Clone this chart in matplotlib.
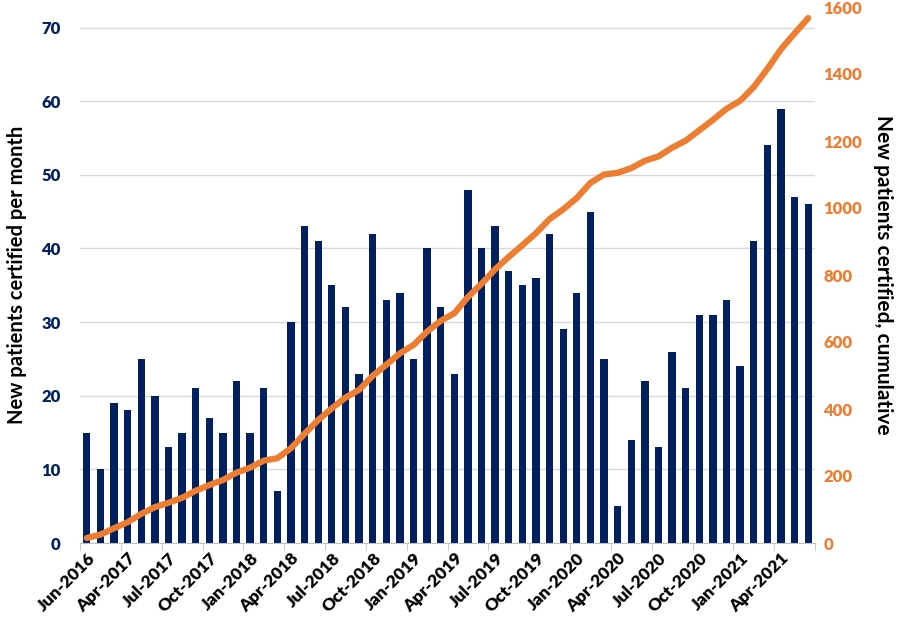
import matplotlib
matplotlib.use("Agg")
import matplotlib.pyplot as plt
import numpy as np

months = ["Jun-2016"] + [f"{m}-{y}" for y in range(2017, 2022)
                         for m in ["Jan", "Feb", "Mar", "Apr", "May", "Jun", "Jul", "Aug",
                                   "Sep", "Oct", "Nov", "Dec"]]
months = months[0:1] + months[2:2 + 53]  # Jun-2016, Feb-2017 ... Jun-2021

new_per_month = [15, 10, 19, 18, 25, 20, 13, 15, 21, 17, 15, 22, 15, 21, 7,
                 30, 43, 41, 35, 32, 23, 42, 33, 34, 25, 40, 32, 23, 48, 40,
                 43, 37, 35, 36, 42, 29, 34, 45, 25, 5, 14, 22, 13, 26, 21,
                 31, 31, 33, 24, 41, 54, 59, 47, 46]

cumulative = [15, 25, 44, 62, 87, 107, 120, 135, 156, 173, 188, 210, 225, 246, 253,
              283, 326, 367, 402, 434, 457, 499, 532, 566, 591, 631, 663, 686, 734, 774,
              817, 854, 889, 925, 967, 996, 1030, 1075, 1100, 1105, 1119, 1141, 1154, 1180, 1201,
              1232, 1263, 1296, 1320, 1361, 1415, 1474, 1521, 1567]

left_ticks = [0, 10, 20, 30, 40, 50, 60, 70]
right_ticks = [0, 200, 400, 600, 800, 1000, 1200, 1400, 1600]

NAVY = "#002060"
ORANGE = "#ED7D31"
FONT = ["Lato", "DejaVu Sans"]
plt.rcParams['font.family'] = FONT

fig = plt.figure(figsize=(9, 6.17), dpi=100)
ax = fig.add_axes([80/900, 1 - 543/617, 735/900, 536/617])
x = np.arange(len(months))
ax.bar(x, new_per_month, width=0.54, color=NAVY, zorder=2)
ax.set_xlim(-0.5, len(months) - 0.5)
ax.set_ylim(0, 72.8)
ax.set_yticks(left_ticks)
ax.set_yticklabels([str(t) for t in left_ticks], color=NAVY, fontsize=12, fontweight="heavy")
ax.grid(axis="y", color="#D9D9D9", linewidth=1, zorder=0)
ax.set_axisbelow(True)
for s in ["top", "right", "left"]:
    ax.spines[s].set_visible(False)
ax.spines["bottom"].set_color("#BFBFBF")
ax.tick_params(axis="y", length=0, pad=14)
ax.set_xticks(x[::3])
ax.set_xticklabels(months[::3], rotation=45, ha="right", rotation_mode="anchor",
                   fontsize=12.5, fontweight="heavy", color="black")
ax.tick_params(axis="x", length=0, pad=5)
ax.set_xticks(np.arange(-0.5, len(months), 3), minor=True)
ax.tick_params(axis="x", which="minor", length=5, color="#BFBFBF")
ax.set_ylabel("New patients certified per month", fontsize=14.5, fontweight="bold",
              labelpad=10)

ax2 = ax.twinx()
ax2.plot(x, cumulative, color=ORANGE, linewidth=4.5, solid_capstyle="round", zorder=3)
ax2.set_ylim(0, 1600)
ax2.set_yticks(right_ticks)
ax2.set_yticklabels([str(t) for t in right_ticks], color=ORANGE, fontsize=12,
                    fontweight="heavy")
ax2.tick_params(axis="y", length=0, pad=6)
for s in ["top", "right", "left", "bottom"]:
    ax2.spines[s].set_visible(False)
ax2.set_ylabel("New patients certified, cumulative", fontsize=15, fontweight="bold",
               rotation=270, labelpad=22)

fig.savefig("out.png", dpi=100)
